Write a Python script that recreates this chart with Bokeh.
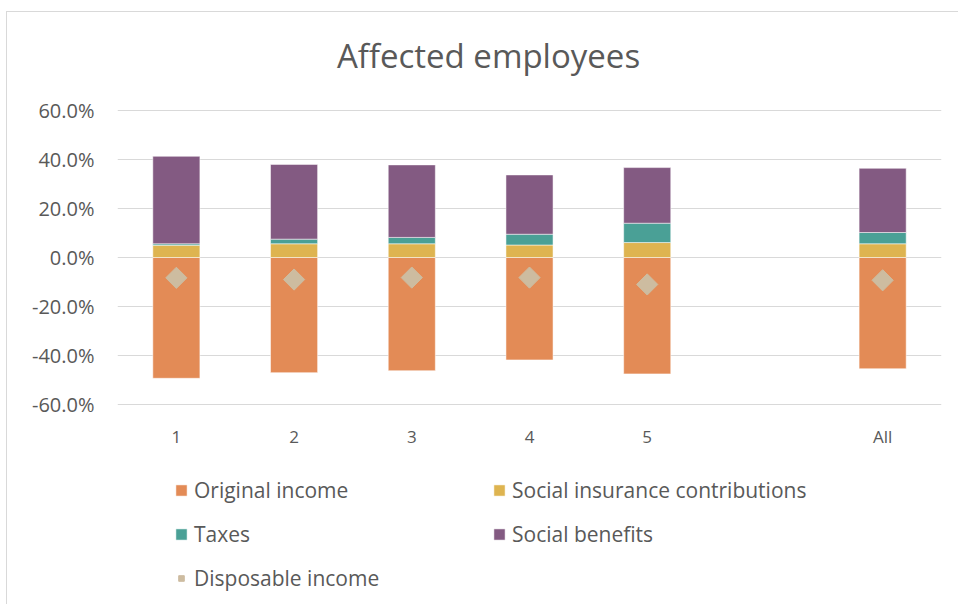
from bokeh.plotting import figure
from bokeh.models import (FactorRange, Range1d, FixedTicker, Legend, LegendItem,
                          ColumnDataSource, Label)
from bokeh.embed import file_html
from bokeh.resources import INLINE
import numpy as np

# ---- data ----
categories = ["1", "2", "3", "4", "5", " ", "All"]
groups = ["1", "2", "3", "4", "5", "All"]
original_income = [-49.3, -47.0, -46.2, -41.8, -47.5, -45.4]
social_insurance = [5.0, 5.6, 5.6, 5.1, 6.1, 5.6]
taxes = [0.6, 1.9, 2.6, 4.4, 7.9, 4.6]
social_benefits = [35.7, 30.5, 29.6, 24.2, 22.7, 26.2]
disposable_income = [-8.3, -9.0, -8.2, -8.2, -11.0, -9.3]
y_ticks = [-60, -40, -20, 0, 20, 40, 60]
y_tick_labels = ["-60.0%", "-40.0%", "-20.0%", "0.0%", "20.0%", "40.0%", "60.0%"]
series_names = ["Original income", "Social insurance contributions", "Taxes",
                "Social benefits", "Disposable income"]
colors = ["#E38B56", "#DEB450", "#4AA096", "#835A82", "#CDBCA0"]
title_text = "Affected employees"

FONT = "Open Sans"
TXT = "#595959"

# layout constants (pixels)
FIG_W, FIG_H = 952, 593
LEFT, RIGHT = 110, 18
PX_PER_UNIT = 2.45
GRID_TOP_PX = 98          # distance from canvas top to the 60% gridline
y_top = 60 + GRID_TOP_PX / PX_PER_UNIT
y_bottom = y_top - FIG_H / PX_PER_UNIT

src = ColumnDataSource(dict(x=groups, orig=original_income, sic=social_insurance,
                            tax=taxes, ben=social_benefits, disp=disposable_income))

p = figure(x_range=FactorRange(*categories, range_padding=0), y_range=Range1d(y_bottom, y_top),
           width=FIG_W, height=FIG_H, output_backend="svg", toolbar_location=None,
           min_border_left=LEFT, min_border_right=RIGHT, min_border_top=0, min_border_bottom=0)
p.margin = (11, 0, 0, 6)
p.styles = {"border-top": "1px solid #d9d9d9", "border-left": "1px solid #d9d9d9"}

r_orig = p.vbar(x="x", top="orig", bottom=0, width=0.4, fill_color=colors[0],
                line_color="white", line_alpha=0.5, source=src)
stack = p.vbar_stack(["sic", "tax", "ben"], x="x", width=0.4, fill_color=colors[1:4],
                     line_color="white", line_alpha=0.5, source=src)
r_disp = p.scatter(x="x", y="disp", marker="square", angle=np.pi / 4, size=15,
                   fill_color=colors[4], line_color=colors[4], source=src)

title = Label(x=371, y=FIG_H - 43, x_units="screen", y_units="screen", text=title_text,
              text_align="center", text_baseline="middle", text_font=FONT,
              text_font_size="33px", text_color=TXT)
p.add_layout(title)

p.outline_line_color = None
p.xgrid.visible = False
p.ygrid.grid_line_color = "#d9d9d9"
p.ygrid.grid_line_width = 1
p.yaxis.ticker = FixedTicker(ticks=y_ticks)
p.ygrid.ticker = FixedTicker(ticks=y_ticks)
p.yaxis.major_label_overrides = {t: l for t, l in zip(y_ticks, y_tick_labels)}
for ax in (p.xaxis, p.yaxis):
    ax.axis_line_color = None
    ax.major_tick_line_color = None
    ax.minor_tick_line_color = None
    ax.major_label_text_font = FONT
    ax.major_label_text_color = TXT
p.yaxis.major_label_text_font_size = "20px"
p.xaxis.major_label_text_font_size = "17px"
p.yaxis.major_label_standoff = 17
p.xaxis.fixed_location = -60
p.xaxis.major_label_standoff = 14

renderers = [r_orig] + list(stack) + [r_disp]
items = [LegendItem(label=n, renderers=[r]) for n, r in zip(series_names, renderers)]
# legend fills column by column: put items so rows read left-to-right as in the reference
ordered = [items[0], items[2], items[4], items[1], items[3]]
legend = Legend(items=ordered, ncols=2, location=(57, 13), glyph_width=14, glyph_height=14,
                label_standoff=6, label_text_font=FONT, label_text_font_size="21px",
                label_text_color=TXT, label_height=29, spacing=15, padding=0, margin=0,
                border_line_color=None, background_fill_alpha=0, label_width=283)
p.add_layout(legend, "center")

open("out.html", "w").write(file_html(p, INLINE))
